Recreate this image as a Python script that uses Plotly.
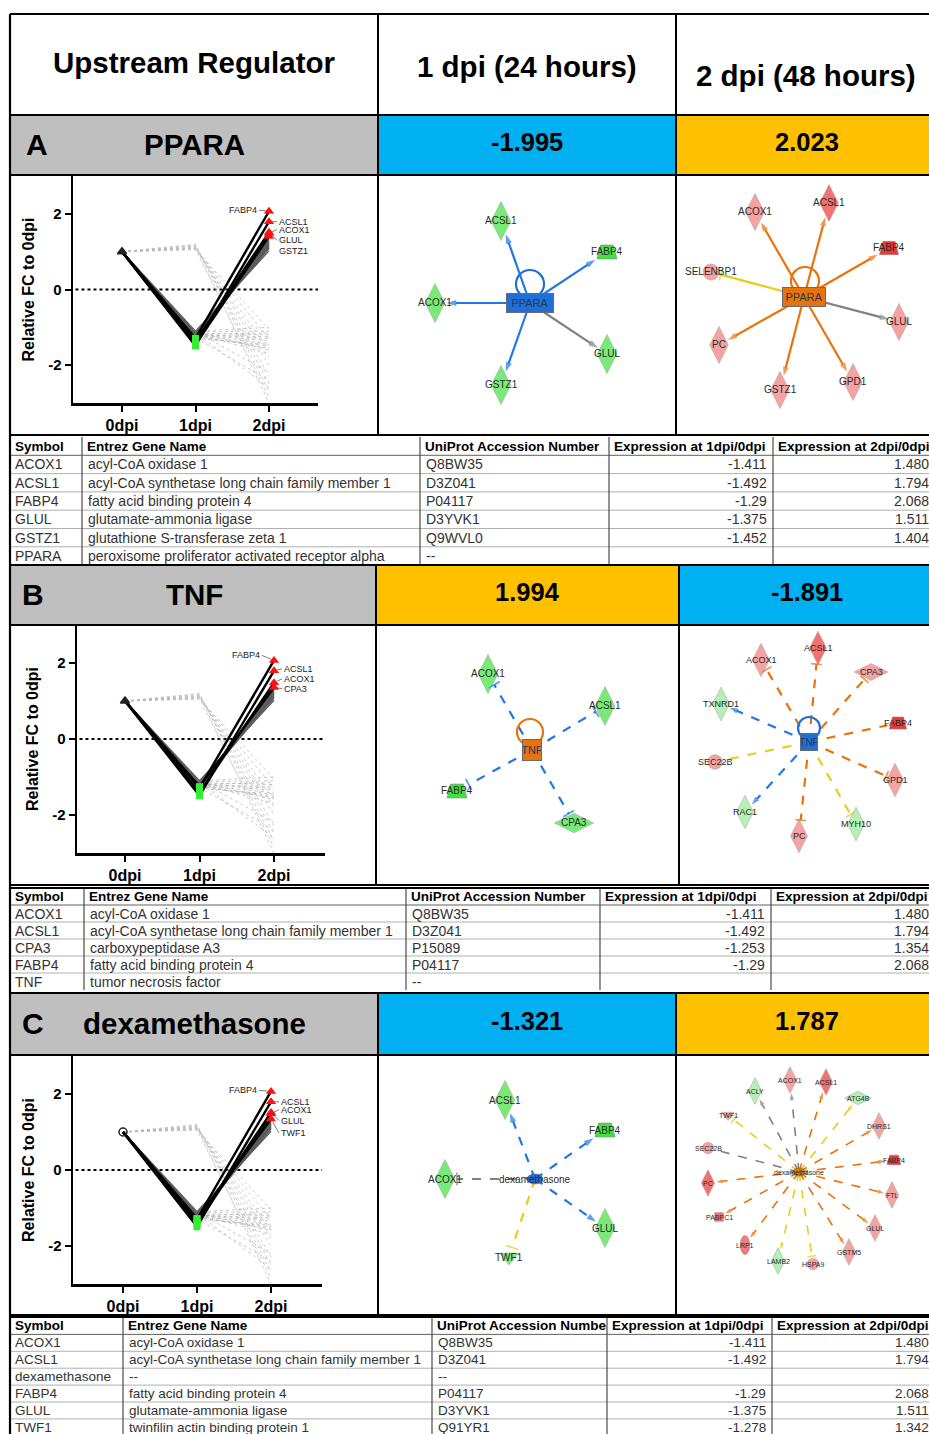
import math
import plotly.graph_objects as go

# ============================ DATA ============================
header_labels = ["Upstream Regulator", "1 dpi (24 hours)", "2 dpi (48 hours)"]
panel_letters = ["A", "B", "C"]
regulators = ["PPARA", "TNF", "dexamethasone"]
zscore_1dpi = [-1.995, 1.994, -1.321]
zscore_2dpi = [2.023, -1.891, 1.787]

time_labels = ["0dpi", "1dpi", "2dpi"]
baseline_fc = 1.0

# background genes (grey lines): fold change at 1 dpi and 2 dpi
bg_downup_1dpi = [-1.10, -1.15, -1.18, -1.20, -1.22, -1.25, -1.28, -1.30, -1.33, -1.35, -1.38, -1.40, -1.24, -1.16]
bg_downup_2dpi = [1.02, 1.08, 1.12, 1.15, 1.18, 1.22, 1.25, 1.28, 1.32, 1.36, 1.40, 1.45, 1.10, 1.20]
bg_downdown_1dpi = [-1.10, -1.12, -1.15, -1.18, -1.20, -1.22, -1.25, -1.12, -1.16, -1.20, -1.10, -1.28, -1.14, -1.19, -1.24, -1.30]
bg_downdown_2dpi = [-1.00, -1.10, -1.20, -1.30, -1.35, -1.42, -1.50, -1.60, -1.70, -1.25, -2.20, -2.40, -2.60, -1.15, -1.55, -1.45]
bg_updown_1dpi = [1.05, 1.08, 1.10, 1.12, 1.15, 1.18, 1.20, 1.06, 1.14, 1.10]
bg_updown_2dpi = [-1.05, -1.30, -1.60, -2.00, -2.30, -2.50, -2.70, -2.85, -3.00, -1.80]

# tables
table_header = ["Symbol", "Entrez Gene Name", "UniProt Accession Number",
                "Expression at 1dpi/0dpi", "Expression at 2dpi/0dpi"]
tableC_header = ["Symbol", "Entrez Gene Name", "UniProt Accession Numbe",
                 "Expression at 1dpi/0dpi", "Expression at 2dpi/0dpi"]

tabA_symbol = ["ACOX1", "ACSL1", "FABP4", "GLUL", "GSTZ1", "PPARA"]
tabA_name = ["acyl-CoA oxidase 1", "acyl-CoA synthetase long chain family member 1",
             "fatty acid binding protein 4", "glutamate-ammonia ligase",
             "glutathione S-transferase zeta 1", "peroxisome proliferator activated receptor alpha"]
tabA_uniprot = ["Q8BW35", "D3Z041", "P04117", "D3YVK1", "Q9WVL0", "--"]
tabA_exp1 = [-1.411, -1.492, -1.29, -1.375, -1.452, None]
tabA_exp2 = [1.480, 1.794, 2.068, 1.511, 1.404, None]

tabB_symbol = ["ACOX1", "ACSL1", "CPA3", "FABP4", "TNF"]
tabB_name = ["acyl-CoA oxidase 1", "acyl-CoA synthetase long chain family member 1",
             "carboxypeptidase A3", "fatty acid binding protein 4", "tumor necrosis factor"]
tabB_uniprot = ["Q8BW35", "D3Z041", "P15089", "P04117", "--"]
tabB_exp1 = [-1.411, -1.492, -1.253, -1.29, None]
tabB_exp2 = [1.480, 1.794, 1.354, 2.068, None]

tabC_symbol = ["ACOX1", "ACSL1", "dexamethasone", "FABP4", "GLUL", "TWF1"]
tabC_name = ["acyl-CoA oxidase 1", "acyl-CoA synthetase long chain family member 1", "--",
             "fatty acid binding protein 4", "glutamate-ammonia ligase", "twinfilin actin binding protein 1"]
tabC_uniprot = ["Q8BW35", "D3Z041", "--", "P04117", "D3YVK1", "Q91YR1"]
tabC_exp1 = [-1.411, -1.492, None, -1.29, -1.375, -1.278]
tabC_exp2 = [1.480, 1.794, None, 2.068, 1.511, 1.342]

# networks (node position in page pixels, shape, expression state, relation, prediction, edge kind)
netA1_reg = ["PPARA", 530, 303, "inhibited", "box"]
netA1_nodes = ["ACSL1", "FABP4", "ACOX1", "GLUL", "GSTZ1"]
netA1_x = [501, 607, 435, 607, 501]
netA1_y = [221, 252, 303, 354, 385]
netA1_shape = ["diamond", "trapezoid", "diamond", "diamond", "diamond"]
netA1_state = ["down", "down", "down", "down", "down"]
netA1_rel = ["act", "act", "act", "act", "act"]
netA1_pred = ["inhibition", "inhibition", "inhibition", "unexplained", "inhibition"]
netA1_kind = ["direct"] * 5

netA2_reg = ["PPARA", 804, 297, "activated", "box"]
netA2_nodes = ["ACOX1", "ACSL1", "FABP4", "SELENBP1", "GLUL", "PC", "GSTZ1", "GPD1"]
netA2_x = [755, 829, 889, 711, 899, 719, 780, 853]
netA2_y = [212, 203, 248, 272, 322, 345, 390, 382]
netA2_shape = ["diamond", "diamond", "trapezoid", "circle", "diamond", "diamond", "diamond", "diamond"]
netA2_state = ["up", "up_strong", "up_strong", "up", "up", "up", "up", "up"]
netA2_rel = ["act", "act", "act", "inh", "act", "act", "act", "act"]
netA2_pred = ["activation", "activation", "activation", "inconsistent", "unexplained",
              "activation", "activation", "activation"]
netA2_kind = ["direct"] * 8

netB1_reg = ["TNF", 532, 750, "activated", "square"]
netB1_nodes = ["ACOX1", "ACSL1", "FABP4", "CPA3"]
netB1_x = [488, 605, 457, 574]
netB1_y = [674, 706, 791, 823]
netB1_shape = ["diamond", "diamond", "trapezoid", "wdiamond"]
netB1_state = ["down", "down", "down", "down"]
netB1_rel = ["inh", "inh", "inh", "inh"]
netB1_pred = ["inhibition"] * 4
netB1_kind = ["indirect"] * 4

netB2_reg = ["TNF", 809, 742, "inhibited", "square"]
netB2_nodes = ["ACOX1", "ACSL1", "CPA3", "TXNRD1", "FABP4", "SEC22B", "GPD1", "RAC1", "PC", "MYH10"]
netB2_x = [761, 818, 871, 721, 898, 715, 895, 745, 799, 856]
netB2_y = [660, 648, 672, 704, 723, 762, 780, 812, 836, 824]
netB2_shape = ["diamond", "diamond", "wdiamond", "diamond", "trapezoid", "circle",
               "diamond", "diamond", "diamond", "diamond"]
netB2_state = ["up", "up_strong", "up", "down_weak", "up_strong", "up", "up", "down_weak", "up", "down_weak"]
netB2_rel = ["inh", "inh", "inh", "act", "none", "none", "inh", "act", "inh", "inh"]
netB2_pred = ["activation", "activation", "activation", "inhibition", "activation", "inconsistent",
              "activation", "inhibition", "activation", "inconsistent"]
netB2_kind = ["indirect"] * 10

netC1_reg = ["dexamethasone", 535, 1179, "inhibited", "ellipse"]
netC1_nodes = ["ACSL1", "FABP4", "ACOX1", "GLUL", "TWF1"]
netC1_x = [505, 605, 445, 605, 509]
netC1_y = [1100, 1130, 1179, 1228, 1257]
netC1_shape = ["diamond", "trapezoid", "diamond", "diamond", "triangle"]
netC1_state = ["down", "down", "down", "down", "down"]
netC1_rel = ["act", "act", "inh", "act", "inh"]
netC1_pred = ["inhibition", "inhibition", "unexplained", "inhibition", "inconsistent"]
netC1_kind = ["indirect"] * 5

netC2_reg = ["dexamethasone", 799, 1172, "activated", "ellipse"]
netC2_nodes = ["ACLY", "ACOX1", "ACSL1", "ATG4B", "TWF1", "DHRS1", "SEC22B", "FABP4",
               "PC", "FTL", "PABPC1", "GLUL", "LRP1", "GSTM5", "LAMB2", "HSPA9"]
netC2_x = [755, 790, 826, 858, 728, 879, 708, 894, 708, 892, 719, 875, 745, 849, 778, 813]
netC2_y = [1091, 1080, 1082, 1098, 1115, 1126, 1148, 1160, 1183, 1195, 1217, 1228, 1245, 1252, 1261, 1264]
netC2_shape = ["diamond", "diamond", "diamond", "wdiamond", "triangle", "diamond", "circle", "trapezoid",
               "diamond", "diamond", "square", "diamond", "ellipse", "diamond", "diamond", "circle"]
netC2_state = ["down_weak", "up", "up_strong", "down_weak", "up", "up", "up", "up_strong",
               "up_strong", "up", "up_strong", "up", "up", "up", "down_weak", "up"]
netC2_rel = ["act", "act", "act", "act", "inh", "act", "none", "act",
             "act", "act", "act", "act", "act", "act", "act", "inh"]
netC2_pred = ["unexplained", "unexplained", "activation", "inconsistent", "inconsistent", "activation",
              "unexplained", "activation", "activation", "activation", "activation", "activation",
              "activation", "activation", "inconsistent", "inconsistent"]
netC2_kind = ["indirect"] * 16

# ============================ STYLE / LAYOUT ============================
W, H = 929, 1434
FONT = "Liberation Sans, Arial, sans-serif"
TFONT = "Liberation Sans, Arial, sans-serif"
BLUE_CELL, ORANGE_CELL, GRAY_CELL = "#00b0f0", "#ffc000", "#bfbfbf"
STATE_COLOR = {"down": "#3fe23f", "down_weak": "#98ea98", "up": "#f27b7b", "up_strong": "#ef3636"}
REG_COLOR = {"inhibited": "#1f6fd8", "activated": "#e8730c"}
PRED_COLOR = {"inhibition": "#1f78e6", "activation": "#e8730c",
              "inconsistent": "#e9cc1c", "unexplained": "#808080"}


def PX(x):
    return x / W


def PY(y):
    return 1 - y / H


fig = go.Figure()
shapes, annots, axes = [], [], {}


def pline(x0, y0, x1, y1, color="black", width=2):
    shapes.append(dict(type="line", xref="paper", yref="paper", x0=PX(x0), y0=PY(y0),
                       x1=PX(x1), y1=PY(y1), line=dict(color=color, width=width), layer="above"))


def prect(x0, y0, x1, y1, fill):
    shapes.append(dict(type="rect", xref="paper", yref="paper", x0=PX(x0), y0=PY(y0),
                       x1=PX(x1), y1=PY(y1), fillcolor=fill, line=dict(width=0), layer="below"))


def ptext(x, y, s, size, bold=False, color="black", xanchor="center", family=FONT):
    annots.append(dict(xref="paper", yref="paper", x=PX(x), y=PY(y),
                       text=f"<b>{s}</b>" if bold else s, showarrow=False,
                       font=dict(family=family, size=size, color=color),
                       xanchor=xanchor, yanchor="middle"))


# ---------------- header + title rows ----------------
col_layout = [(378, 676), (376, 679), (378, 676)]
title_rows = [(115, 175), (565, 625), (994, 1055)]
letter_x = [37, 33, 33]
RIGHT_CELL_CENTER = 807   # the last column continues beyond the page edge

ptext(194, 63, header_labels[0], 29.5, bold=True)
ptext(527, 67, header_labels[1], 29.5, bold=True)
ptext(806, 75, header_labels[2], 29.5, bold=True)

for i in range(3):
    c1, c2 = col_layout[i]
    t0, t1 = title_rows[i]
    prect(10, t0, c1, t1, GRAY_CELL)
    prect(c1, t0, c2, t1, BLUE_CELL if zscore_1dpi[i] < 0 else ORANGE_CELL)
    prect(c2, t0, W, t1, BLUE_CELL if zscore_2dpi[i] < 0 else ORANGE_CELL)
    ptext(letter_x[i], (t0 + t1) / 2 - 1, panel_letters[i], 30, bold=True)
    ptext(194, (t0 + t1) / 2 - 1, regulators[i], 29.5, bold=True)
    ptext((c1 + c2) / 2, (t0 + t1) / 2 - 3, f"{zscore_1dpi[i]:.3f}", 25.5, bold=True)
    ptext(RIGHT_CELL_CENTER, (t0 + t1) / 2 - 3, f"{zscore_2dpi[i]:.3f}", 25.5, bold=True)

# ---------------- tables ----------------
tables = [
    (437, 18.3, [10, 82, 420, 609, 773, 935], table_header,
     tabA_symbol, tabA_name, tabA_uniprot, tabA_exp1, tabA_exp2, 14),
    (888, 17.0, [10, 84, 406, 600, 771, 935], table_header,
     tabB_symbol, tabB_name, tabB_uniprot, tabB_exp1, tabB_exp2, 14),
    (1317.5, 16.9, [10, 123, 432, 607, 772, 935], tableC_header,
     tabC_symbol, tabC_name, tabC_uniprot, tabC_exp1, tabC_exp2, 13.5),
]
THS = 13.5
for top, rh, cols, hdr, sym, name, uni, e1, e2, TS in tables:
    nrow = len(sym) + 1
    bottom = top + nrow * rh
    for r in range(1, nrow):
        pline(10, top + r * rh, W, top + r * rh, color="#b0b0b0" if r > 1 else "#606060", width=1)
    for c in cols[1:-1]:
        pline(c, top, c, min(bottom, H), color="#4a4a4a", width=1.2)
    yc = top + rh / 2
    for j, h in enumerate(hdr):
        ptext(cols[j] + 3, yc, h, THS, bold=True, xanchor="left", family=TFONT)
    for r in range(len(sym)):
        yc = top + (r + 1.5) * rh
        ptext(cols[0] + 3, yc, sym[r], TS, color="#333", xanchor="left", family=TFONT)
        ptext(cols[1] + 4, yc, name[r], TS, color="#333", xanchor="left", family=TFONT)
        ptext(cols[2] + 4, yc, uni[r], TS, color="#333", xanchor="left", family=TFONT)
        if e1[r] is not None:
            ptext(cols[4] - 4, yc, f"{e1[r]:g}", TS, color="#333", xanchor="right", family=TFONT)
        if e2[r] is not None:
            ptext(cols[5] - 4, yc, f"{e2[r]:.3f}", TS, color="#333", xanchor="right", family=TFONT)

# ---------------- grid borders ----------------
pline(10, 14, W, 14, width=2.2)
pline(10, 14, 10, H, width=2.2)
for y in [115, 175, 435, 565, 625, 885, 888, 993, 1055, 1315, 1317]:
    pline(10, y, W, y, width=2)
pline(378, 14, 378, 435, width=2)
pline(676, 14, 676, 435, width=2)
pline(376, 565, 376, 885, width=2)
pline(679, 565, 679, 885, width=2)
pline(378, 994, 378, 1315, width=2)
pline(676, 994, 676, 1315, width=2)

# ---------------- line charts ----------------
chart_boxes = [(73, 318, 176, 403, 122, 269), (77, 325, 625, 853, 125, 274), (73, 322, 1056, 1284, 123, 271)]
chart_tables = [(tabA_symbol, tabA_exp1, tabA_exp2), (tabB_symbol, tabB_exp1, tabB_exp2),
                (tabC_symbol, tabC_exp1, tabC_exp2)]
zero_symbol = ["triangle-up", "triangle-up", "circle-open"]
label_offsets = [
    {"FABP4": (-10, -1, "right"), "ACSL1": (8, 0, "left"), "ACOX1": (8, -4, "left"),
     "GLUL": (8, 8, "left"), "GSTZ1": (8, 15, "left")},
    {"FABP4": (-12, -5, "right"), "ACSL1": (8, -2, "left"), "ACOX1": (8, -4, "left"),
     "CPA3": (8, 1, "left")},
    {"FABP4": (-12, -1, "right"), "ACSL1": (8, 0, "left"), "ACOX1": (8, -4, "left"),
     "GLUL": (8, 8, "left"), "TWF1": (8, 14, "left")},
]


def polylines(d1, d2):
    xs, ys = [], []
    for a, b in zip(d1, d2):
        xs += [0, 1, 2, None]
        ys += [baseline_fc, a, b, None]
    return xs, ys


for i in range(3):
    sid = "" if i == 0 else str(i + 1)
    xa, ya = "x" + sid, "y" + sid
    x0, x1, yt, yb, p0, p2 = chart_boxes[i]
    u = (p2 - p0) / 2
    axes["xaxis" + sid] = dict(domain=[PX(x0), PX(x1)], range=[(x0 - p0) / u, (x1 - p0) / u], anchor=ya,
                               showline=True, linecolor="black", linewidth=2.5, ticks="outside", ticklen=6,
                               tickwidth=2, tickcolor="black", tickvals=[0, 1, 2],
                               ticktext=[f"<b>{t}</b>" for t in time_labels],
                               tickfont=dict(family=FONT, size=16, color="black"),
                               showgrid=False, zeroline=False, fixedrange=True)
    axes["yaxis" + sid] = dict(domain=[PY(yb), PY(yt)], range=[-3, 3], anchor=xa,
                               showline=True, linecolor="black", linewidth=2.5, ticks="outside", ticklen=6,
                               tickwidth=2, tickcolor="black", tickvals=[-2, 0, 2],
                               ticktext=["<b>-2</b>", "<b>0</b>", "<b>2</b>"],
                               tickfont=dict(family=FONT, size=15, color="black"),
                               title=dict(text="<b>Relative FC to 0dpi</b>",
                                          font=dict(family=FONT, size=16, color="black"), standoff=10),
                               showgrid=False, zeroline=False, fixedrange=True)
    shapes.append(dict(type="line", xref=xa + " domain", yref=ya, x0=0.01, x1=1.0, y0=0, y1=0,
                       line=dict(color="black", width=2, dash="dot"), layer="below"))
    xs, ys = polylines(bg_updown_1dpi, bg_updown_2dpi)
    fig.add_trace(go.Scatter(x=xs, y=ys, xaxis=xa, yaxis=ya, mode="lines",
                             line=dict(color="#b8b8b8", width=0.7, dash="dot")))
    xs, ys = polylines(bg_downdown_1dpi, bg_downdown_2dpi)
    fig.add_trace(go.Scatter(x=xs, y=ys, xaxis=xa, yaxis=ya, mode="lines",
                             line=dict(color="#b0b0b0", width=0.7, dash="dot")))
    xs, ys = polylines(bg_downup_1dpi, bg_downup_2dpi)
    fig.add_trace(go.Scatter(x=xs, y=ys, xaxis=xa, yaxis=ya, mode="lines",
                             line=dict(color="#5c5c5c", width=1.3)))
    sym, e1, e2 = chart_tables[i]
    gs = [(s, a, b) for s, a, b in zip(sym, e1, e2) if a is not None]
    for s, a, b in gs:
        fig.add_trace(go.Scatter(x=[0, 1, 2], y=[baseline_fc, a, b], xaxis=xa, yaxis=ya, mode="lines",
                                 line=dict(color="black", width=2.4)))
    fig.add_trace(go.Scatter(x=[0], y=[baseline_fc], xaxis=xa, yaxis=ya, mode="markers",
                             marker=dict(symbol=zero_symbol[i], size=8, color="#222",
                                         line=dict(color="#222", width=1.5))))
    fig.add_trace(go.Scatter(x=[1] * len(gs), y=[g[1] for g in gs], xaxis=xa, yaxis=ya, mode="markers",
                             marker=dict(symbol="square", size=7, color="#33ee33")))
    fig.add_trace(go.Scatter(x=[2] * len(gs), y=[g[2] for g in gs], xaxis=xa, yaxis=ya, mode="markers",
                             marker=dict(symbol="triangle-up", size=9, color="#ff1010")))
    for s, a, b in gs:
        ox, oy, anc = label_offsets[i][s]
        annots.append(dict(xref=xa, yref=ya, x=2, y=b, text=s, showarrow=True, ax=ox, ay=oy,
                           xanchor=anc, yanchor="middle", arrowhead=0, arrowwidth=0.7, arrowcolor="#444",
                           standoff=3, font=dict(family=FONT, size=9, color="#222")))

# ---------------- networks ----------------
BASE_SIZE = {"diamond": 28, "wdiamond": 28, "trapezoid": 20, "circle": 17, "triangle": 16,
             "square": 13, "ellipse": 28}
MARKER_SYMBOL = {"diamond": "diamond-tall", "wdiamond": "diamond-wide", "circle": "circle",
                 "triangle": "triangle-down", "square": "square"}


def boundary(shape, S, ux, uy):
    ax_, ay_ = abs(ux) + 1e-9, abs(uy) + 1e-9
    if shape == "diamond":
        return 1 / (ax_ / (0.35 * S) + ay_ / (0.7 * S))
    if shape == "wdiamond":
        return 1 / (ax_ / (0.7 * S) + ay_ / (0.35 * S))
    if shape == "trapezoid":
        return min(0.5 * S / ax_, 0.35 * S / ay_)
    if shape == "square":
        return min(0.5 * S / ax_, 0.5 * S / ay_)
    if shape == "ellipse":
        return 1 / math.sqrt((ux / (0.25 * S)) ** 2 + (uy / (0.5 * S)) ** 2)
    return 0.5 * S


networks = [
    (4, (378, 676, 175, 435), netA1_reg, netA1_nodes, netA1_x, netA1_y, netA1_shape, netA1_state,
     netA1_rel, netA1_pred, netA1_kind, 1.0, 10, (46, 18), (0, -19, 14)),
    (5, (676, 929, 175, 435), netA2_reg, netA2_nodes, netA2_x, netA2_y, netA2_shape, netA2_state,
     netA2_rel, netA2_pred, netA2_kind, 0.95, 10, (42, 18), (1, -16, 14)),
    (6, (376, 679, 625, 885), netB1_reg, netB1_nodes, netB1_x, netB1_y, netB1_shape, netB1_state,
     netB1_rel, netB1_pred, netB1_kind, 1.0, 10, (18, 20), (-2, -18, 13)),
    (7, (679, 929, 625, 885), netB2_reg, netB2_nodes, netB2_x, netB2_y, netB2_shape, netB2_state,
     netB2_rel, netB2_pred, netB2_kind, 0.86, 9, (16, 16), (0, -14, 11)),
    (8, (378, 676, 1055, 1315), netC1_reg, netC1_nodes, netC1_x, netC1_y, netC1_shape, netC1_state,
     netC1_rel, netC1_pred, netC1_kind, 1.0, 10, (16, 10), None),
    (9, (676, 929, 1055, 1315), netC2_reg, netC2_nodes, netC2_x, netC2_y, netC2_shape, netC2_state,
     netC2_rel, netC2_pred, netC2_kind, 0.68, 7, (12, 8), None),
]

for (k, box, reg, nodes, nx, ny, nshape, nstate, nrel, npred, nkind,
     scale, fsize, regsize, loop) in networks:
    xa, ya = f"x{k}", f"y{k}"
    bx0, bx1, by0, by1 = box
    axes[f"xaxis{k}"] = dict(domain=[PX(bx0), PX(bx1)], range=[bx0, bx1], visible=False,
                             anchor=ya, fixedrange=True)
    axes[f"yaxis{k}"] = dict(domain=[PY(by1), PY(by0)], range=[by1, by0], visible=False,
                             anchor=xa, fixedrange=True)
    rname, rx, ry, rstate, rkind = reg
    ew = 2.2 if scale > 0.8 else 1.6
    for j in range(len(nodes)):
        dx, dy = nx[j] - rx, ny[j] - ry
        L = math.hypot(dx, dy)
        ux, uy = dx / L, dy / L
        S = BASE_SIZE[nshape[j]] * scale
        t = boundary(nshape[j], S, ux, uy) + 2
        ex, ey = nx[j] - ux * t, ny[j] - uy * t
        col = PRED_COLOR[npred[j]]
        dash = "solid" if nkind[j] == "direct" else "dash"
        if nrel[j] == "none":
            fig.add_trace(go.Scatter(x=[rx, ex], y=[ry, ey], xaxis=xa, yaxis=ya, mode="lines",
                                     line=dict(color=col, width=ew, dash=dash)))
        else:
            sym = "arrow" if nrel[j] == "act" else "line-ew"
            fig.add_trace(go.Scatter(
                x=[rx, ex], y=[ry, ey], xaxis=xa, yaxis=ya, mode="lines+markers",
                line=dict(color=col, width=ew, dash=dash),
                marker=dict(symbol=["circle", sym], size=[0, (10 if sym == "arrow" else 9) * scale],
                            angleref="previous", color=col,
                            line=dict(color=col, width=[0, 0 if sym == "arrow" else 1.8]))))
    if loop is not None:
        lx, ly, lr = loop
        shapes.append(dict(type="circle", xref=xa, yref=ya, x0=rx + lx - lr, x1=rx + lx + lr,
                           y0=ry + ly - lr, y1=ry + ly + lr, line=dict(color=REG_COLOR[rstate], width=2.2),
                           layer="above"))
    mi = [j for j in range(len(nodes)) if nshape[j] in MARKER_SYMBOL]
    fig.add_trace(go.Scatter(
        x=[nx[j] for j in mi], y=[ny[j] for j in mi], xaxis=xa, yaxis=ya, mode="markers",
        marker=dict(symbol=[MARKER_SYMBOL[nshape[j]] for j in mi],
                    size=[BASE_SIZE[nshape[j]] * scale for j in mi],
                    color=[STATE_COLOR[nstate[j]] for j in mi], line=dict(color="#8a8a8a", width=0.6))))
    for j in range(len(nodes)):
        S = BASE_SIZE[nshape[j]] * scale
        if nshape[j] == "trapezoid":
            x, y = nx[j], ny[j]
            tw, bw, hh = 0.32 * S, 0.5 * S, 0.35 * S
            shapes.append(dict(type="path", xref=xa, yref=ya,
                               path=f"M {x - tw},{y - hh} L {x + tw},{y - hh} L {x + bw},{y + hh} "
                                    f"L {x - bw},{y + hh} Z",
                               fillcolor=STATE_COLOR[nstate[j]], line=dict(color="#8a8a8a", width=0.6),
                               layer="above"))
        elif nshape[j] == "ellipse":
            shapes.append(dict(type="circle", xref=xa, yref=ya, x0=nx[j] - 0.25 * S, x1=nx[j] + 0.25 * S,
                               y0=ny[j] - 0.5 * S, y1=ny[j] + 0.5 * S, fillcolor=STATE_COLOR[nstate[j]],
                               line=dict(color="#8a8a8a", width=0.6), layer="above"))
    for j in range(len(nodes)):
        annots.append(dict(xref=xa, yref=ya, x=nx[j], y=ny[j], text=nodes[j], showarrow=False,
                           font=dict(family=FONT, size=fsize, color="#2a2a2a")))
    rw, rh = regsize
    if rkind == "ellipse":
        shapes.append(dict(type="circle", xref=xa, yref=ya, x0=rx - rw / 2, x1=rx + rw / 2,
                           y0=ry - rh / 2, y1=ry + rh / 2, fillcolor=REG_COLOR[rstate],
                           line=dict(color="#666", width=0.6), layer="above"))
        annots.append(dict(xref=xa, yref=ya, x=rx, y=ry, text=rname, showarrow=False,
                           font=dict(family=FONT, size=fsize, color="#2a2a2a")))
    else:
        annots.append(dict(xref=xa, yref=ya, x=rx, y=ry, text=rname, showarrow=False,
                           width=rw, height=rh, bgcolor=REG_COLOR[rstate], bordercolor="#6a6a6a",
                           borderwidth=1, borderpad=0,
                           font=dict(family=FONT, size=fsize + 1, color="#263a55")))

fig.update_layout(width=W, height=H, margin=dict(l=0, r=0, t=0, b=0, pad=0),
                  paper_bgcolor="white", plot_bgcolor="rgba(0,0,0,0)", showlegend=False,
                  hovermode=False, shapes=shapes, annotations=annots, **axes)
fig.write_html("out.html", config={"displayModeBar": False, "staticPlot": True},
               post_script="document.body.style.margin='0';document.body.style.padding='0';"
                           "document.body.style.overflow='hidden';")
